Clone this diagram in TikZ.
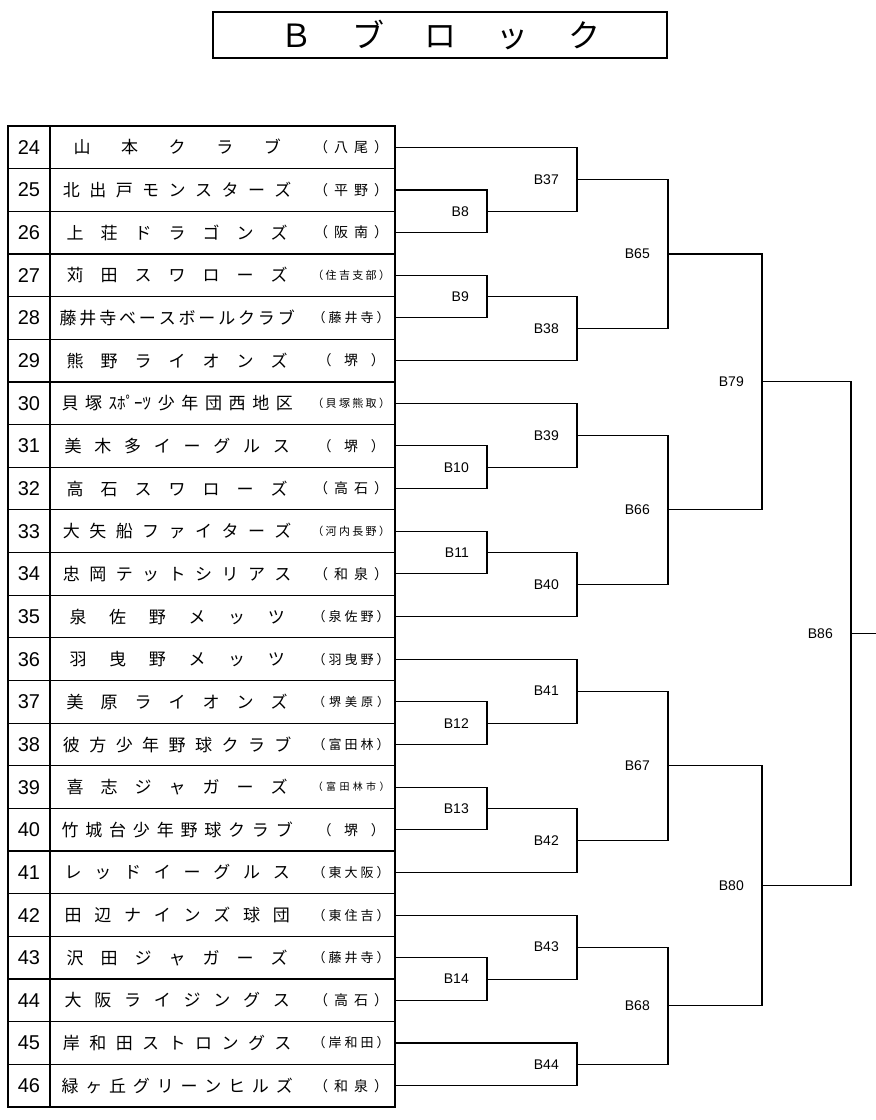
\documentclass[tikz,border=0pt]{standalone}
\usepackage{fontspec}
\setmainfont{Noto Sans CJK JP}
\newfontfamily\lat{Liberation Sans}
\usetikzlibrary{calc}
\makeatletter
\newcommand\spr[2]{\hbox to #2{\hskip0pt plus .5fil\@tfor\tk:=#1\do{\tk\hskip0pt plus 1fil}\hskip0pt plus -.5fil}}
\makeatother
\newcommand\mt[4]{%
  \coordinate (tmp) at ($(#1)!.5!(#2)$);
  \coordinate (#4) at (tmp -| #3);
  \draw[brk] (#1) -| (#4) |- (#2);
  \node[lbl] (L#4) at (#4) {#4};}
\begin{document}
\begin{tikzpicture}[x=1pt,y=-1pt,
  brk/.style={line width=1.1pt},
  lbl/.style={anchor=east,xshift=-18pt,font=\lat\fontsize{14}{14}\selectfont,inner sep=0pt},
  num/.style={font=\lat\fontsize{20}{20}\selectfont,inner sep=0pt},
  grid/.style={line width=1.2pt}]
\useasboundingbox (0,0) rectangle (876,1120);
\node[draw,line width=1.5pt,minimum width=454pt,minimum height=46pt,inner sep=0pt] (title) at (440,35)
  {\fontsize{32}{32}\selectfont\spr{Ｂブロック}{360pt}};
\draw[grid] (8,126) rectangle (395,1107);
\draw[grid] (50,126) -- (50,1107);
\foreach \n/\nm/\pf/\fs in {
24/山本クラブ/（八尾）/14,
25/北出戸モンスターズ/（平野）/14,
26/上荘ドラゴンズ/（阪南）/14,
27/苅田スワローズ/（住吉支部）/11,
28/藤井寺ベースボールクラブ/（藤井寺）/13,
29/熊野ライオンズ/（堺）/14,
30/貝塚{ｽﾎﾟｰﾂ}少年団西地区/（貝塚熊取）/11,
31/美木多イーグルス/（堺）/14,
32/高石スワローズ/（高石）/14,
33/大矢船ファイターズ/（河内長野）/11,
34/忠岡テットシリアス/（和泉）/14,
35/泉佐野メッツ/（泉佐野）/13,
36/羽曳野メッツ/（羽曳野）/13,
37/美原ライオンズ/（堺美原）/12,
38/彼方少年野球クラブ/（富田林）/13,
39/喜志ジャガーズ/（富田林市）/10,
40/竹城台少年野球クラブ/（堺）/14,
41/レッドイーグルス/（東大阪）/13,
42/田辺ナインズ球団/（東住吉）/13,
43/沢田ジャガーズ/（藤井寺）/13,
44/大阪ライジングス/（高石）/14,
45/岸和田ストロングス/（岸和田）/13,
46/緑ヶ丘グリーンヒルズ/（和泉）/14}{
  \pgfmathsetmacro\yc{126+(\n-24+0.5)*42.652}
  \pgfmathsetmacro\yt{126+(\n-24)*42.652}
  \ifnum\n>24 \draw[grid] (8,\yt) -- (395,\yt); \fi
  \node[num] (n\n) at (29,\yc) {\n};
  \node[inner sep=0pt,anchor=west] (t\n) at (58,\yc) {\fontsize{17}{17}\selectfont\expandafter\spr\expandafter{\nm}{238pt}};
  \node[inner sep=0pt,anchor=west] (p\n) at (311,\yc) {\fontsize{\fs}{\fs}\selectfont\expandafter\spr\expandafter{\pf}{80pt}};
  \coordinate (r\n) at (395,\yc);
}
\coordinate (c1) at (487,0);
\coordinate (c2) at (577,0);
\coordinate (c3) at (668,0);
\coordinate (c4) at (762,0);
\coordinate (c5) at (851,0);
\mt{r25}{r26}{c1}{B8}
\mt{r27}{r28}{c1}{B9}
\mt{r31}{r32}{c1}{B10}
\mt{r33}{r34}{c1}{B11}
\mt{r37}{r38}{c1}{B12}
\mt{r39}{r40}{c1}{B13}
\mt{r43}{r44}{c1}{B14}
\mt{r24}{B8}{c2}{B37}
\mt{B9}{r29}{c2}{B38}
\mt{r30}{B10}{c2}{B39}
\mt{B11}{r35}{c2}{B40}
\mt{r36}{B12}{c2}{B41}
\mt{B13}{r41}{c2}{B42}
\mt{r42}{B14}{c2}{B43}
\mt{r45}{r46}{c2}{B44}
\mt{B37}{B38}{c3}{B65}
\mt{B39}{B40}{c3}{B66}
\mt{B41}{B42}{c3}{B67}
\mt{B43}{B44}{c3}{B68}
\mt{B65}{B66}{c4}{B79}
\mt{B67}{B68}{c4}{B80}
\mt{B79}{B80}{c5}{B86}
\coordinate (end) at (876,0);
\draw[brk] (B86) -- (B86 -| end);
\end{tikzpicture}
\end{document}
